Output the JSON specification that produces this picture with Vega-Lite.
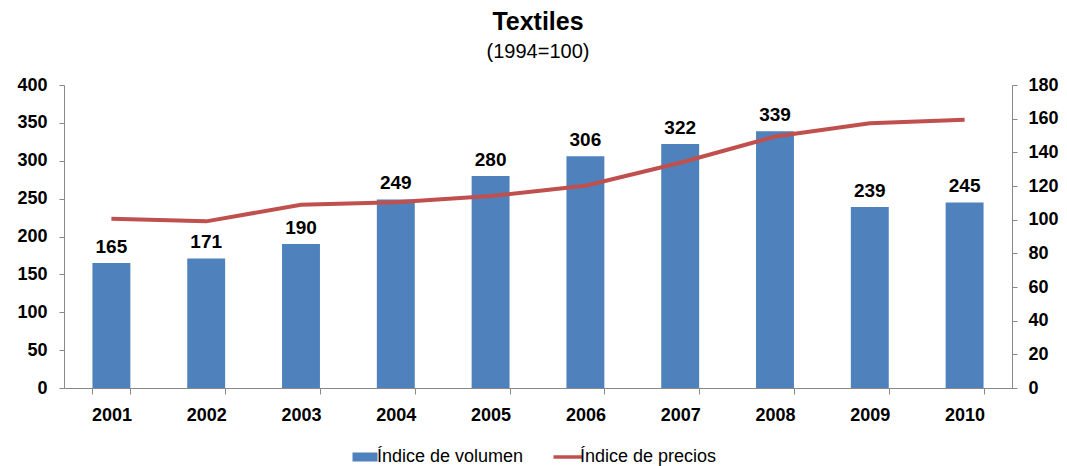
{
  "$schema": "https://vega.github.io/schema/vega-lite/v6.json",
  "width": 948,
  "height": 303,
  "autosize": {"type": "none"},
  "padding": {"left": 64, "top": 85, "right": 55, "bottom": 78},
  "background": "white",
  "config": {
    "font": "Liberation Sans",
    "view": {"stroke": null}
  },
  "title": {
    "text": "Textiles",
    "subtitle": "(1994=100)",
    "fontSize": 25,
    "fontWeight": "bold",
    "subtitleFontSize": 20,
    "subtitleFont": "Liberation Sans",
    "subtitleColor": "black",
    "color": "black",
    "subtitlePadding": 7,
    "anchor": "middle",
    "offset": 14
  },
  "data": {
    "values": [
      {"year": "2001", "volumen": 165, "precios": 100.6},
      {"year": "2002", "volumen": 171, "precios": 99.0},
      {"year": "2003", "volumen": 190, "precios": 108.9},
      {"year": "2004", "volumen": 249, "precios": 110.3},
      {"year": "2005", "volumen": 280, "precios": 114.0},
      {"year": "2006", "volumen": 306, "precios": 120.2},
      {"year": "2007", "volumen": 322, "precios": 133.8},
      {"year": "2008", "volumen": 339, "precios": 149.4},
      {"year": "2009", "volumen": 239, "precios": 157.3},
      {"year": "2010", "volumen": 245, "precios": 159.4}
    ]
  },
  "encoding": {
    "x": {
      "field": "year",
      "type": "nominal",
      "scale": {"paddingInner": 0.6, "paddingOuter": 0.3},
      "axis": {
        "title": null,
        "labelAngle": 0,
        "labelFontSize": 18,
        "labelFontWeight": "bold",
        "labelColor": "black",
        "labelPadding": 12,
        "domainColor": "#888888",
        "tickColor": "#888888",
        "tickSize": 6,
        "tickBand": "extent",
        "grid": false
      }
    }
  },
  "layer": [
    {
      "encoding": {
        "y": {
          "field": "volumen",
          "type": "quantitative",
          "scale": {"domain": [0, 400]},
          "axis": {
            "title": null,
            "values": [0, 50, 100, 150, 200, 250, 300, 350, 400],
            "labelOverlap": false,
            "labelFontSize": 18,
            "labelFontWeight": "bold",
            "labelColor": "black",
            "labelPadding": 12,
            "tickSize": 5,
            "domainColor": "#888888",
            "tickColor": "#888888",
            "grid": false
          }
        }
      },
      "layer": [
        {
          "mark": {"type": "bar"},
          "encoding": {
            "color": {
              "datum": "Índice de volumen",
              "type": "nominal",
              "scale": {
                "domain": ["Índice de volumen", "Índice de precios"],
                "range": ["#4F81BD", "#C0504D"]
              },
              "legend": {
                "title": null,
                "orient": "none",
                "legendX": 292,
                "legendY": 363,
                "direction": "horizontal",
                "labelFontSize": 18,
                "labelColor": "black",
                "labelOffset": 3,
                "columnPadding": 22,
                "symbolSize": 625,
                "symbolStrokeWidth": 0,
                "encode": {
                  "symbols": {
                    "update": {
                      "shape": {"signal": "datum.value == 'Índice de volumen' ? 'M-1,-0.36L1,-0.36L1,0.36L-1,0.36Z' : 'M-1.16,0L1.16,0'"},
                      "strokeWidth": {"signal": "datum.value == 'Índice de volumen' ? 0 : 3.5"},
                      "stroke": {"signal": "datum.value == 'Índice de volumen' ? '#4F81BD' : '#C0504D'"},
                      "fill": {"signal": "datum.value == 'Índice de volumen' ? '#4F81BD' : 'transparent'"},
                      "opacity": {"value": 1}
                    }
                  }
                }
              }
            }
          }
        },
        {
          "mark": {"type": "text", "baseline": "bottom", "dy": -6, "fontSize": 19, "fontWeight": "bold", "color": "black"},
          "encoding": {
            "text": {"field": "volumen", "type": "quantitative"}
          }
        }
      ]
    },
    {
      "mark": {"type": "line", "strokeWidth": 4, "color": "#C0504D"},
      "encoding": {
        "y": {
          "field": "precios",
          "type": "quantitative",
          "scale": {"domain": [0, 180]},
          "axis": {
            "orient": "right",
            "title": null,
            "values": [0, 20, 40, 60, 80, 100, 120, 140, 160, 180],
            "labelOverlap": false,
            "labelFontSize": 18,
            "labelFontWeight": "bold",
            "labelColor": "black",
            "labelPadding": 11,
            "tickSize": 5,
            "domainColor": "#888888",
            "tickColor": "#888888",
            "grid": false
          }
        },
        "color": {"datum": "Índice de precios", "type": "nominal"}
      }
    }
  ],
  "resolve": {"scale": {"y": "independent"}}
}
